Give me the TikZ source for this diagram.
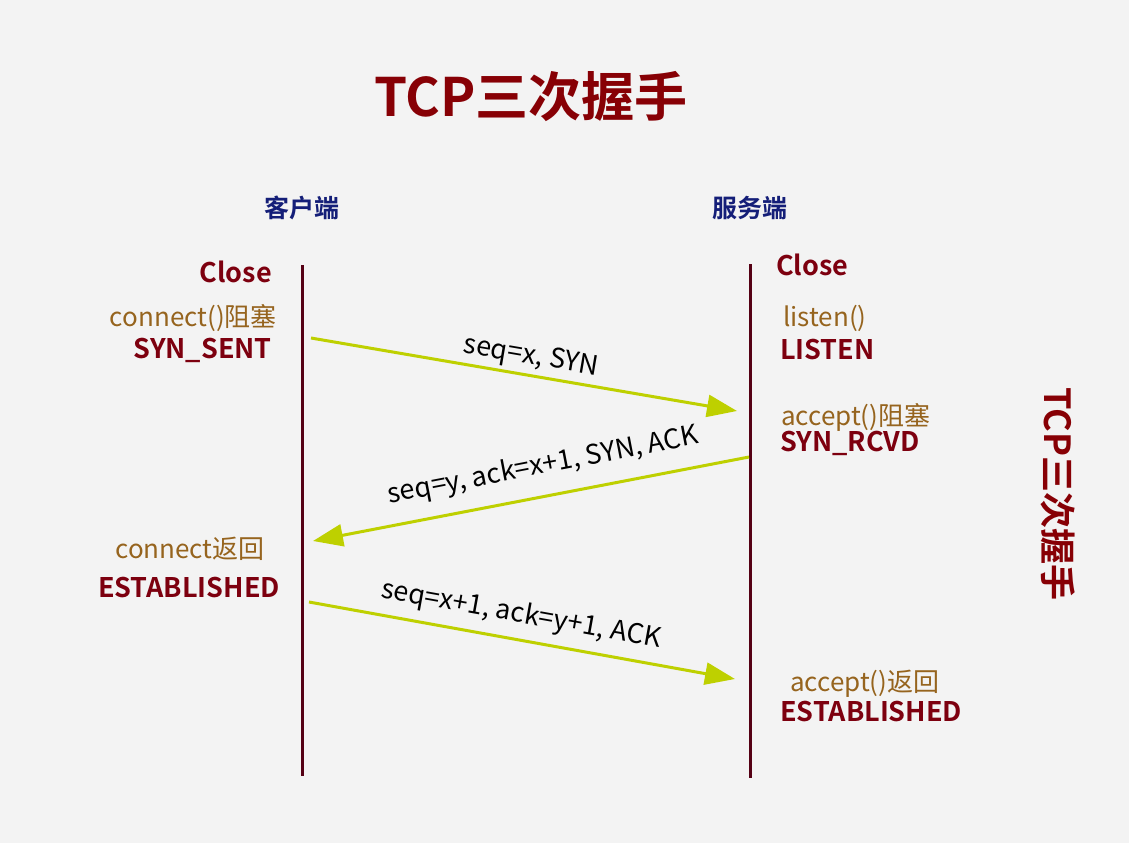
\documentclass[tikz,border=0pt]{standalone}
\usepackage{fontspec}
\setmainfont{Noto Sans CJK SC}
\newfontfamily\cjkbold{Noto Sans CJK SC Bold}
\usetikzlibrary{arrows.meta}
\definecolor{bgc}{RGB}{243,243,243}
\definecolor{lifec}{RGB}{85,0,20}
\definecolor{titlec}{RGB}{135,0,5}
\definecolor{statec}{RGB}{125,0,15}
\definecolor{callc}{RGB}{150,100,30}
\definecolor{sidec}{RGB}{20,30,120}
\definecolor{arrc}{RGB}{190,208,0}
\tikzset{
  lifeline/.style={draw=lifec, line width=3pt},
  msg/.style={draw=arrc, line width=3pt, -{Triangle[length=30pt,width=22pt]}},
  statelbl/.style={font=\cjkbold\fontsize{27}{30}\selectfont, text=statec, inner sep=0pt},
  calllbl/.style={font=\fontsize{26}{29}\selectfont, text=callc, inner sep=0pt},
  sidelbl/.style={font=\cjkbold\fontsize{25}{28}\selectfont, text=sidec, inner sep=0pt},
  msglbl/.style={font=\fontsize{27}{30}\selectfont, text=black, inner sep=0pt},
}
\begin{document}
\begin{tikzpicture}[x=1pt,y=-1pt]
\fill[bgc] (0,0) rectangle (1129,843);
\useasboundingbox (0,0) rectangle (1129,843);

\node[font=\cjkbold\fontsize{53}{60}\selectfont, text=titlec, inner sep=0pt] (title) at (531,97) {TCP三次握手};
\node[font=\cjkbold\fontsize{36}{40}\selectfont, text=titlec, inner sep=0pt, rotate=-90] (vtitle) at (1058,494) {TCP三次握手};

\node[sidelbl] (client) at (302,208) {客户端};
\node[sidelbl] (server) at (750,208) {服务端};

\coordinate (ltop) at (302,265);
\coordinate (lbot) at (302,776);
\coordinate (rtop) at (750,264);
\coordinate (rbot) at (750,778);
\draw[lifeline] (ltop) -- (lbot);
\draw[lifeline] (rtop) -- (rbot);

% left labels
\node[statelbl, anchor=east] (lclose) at (272,272) {Close};
\node[calllbl, anchor=east] (lconn) at (277,318) {connect()阻塞};
\node[statelbl, anchor=east] (lsent) at (272,350) {SYN\_SENT};
\node[calllbl] (lret) at (190,549) {connect返回};
\node[statelbl] (lest) at (189,588) {ESTABLISHED};

% right labels
\node[statelbl, anchor=west] (rclose) at (776,265) {Close};
\node[calllbl, anchor=west] (rlisten) at (783,318) {listen()};
\node[statelbl, anchor=west] (rlistenst) at (780,350) {LISTEN};
\node[calllbl, anchor=west] (racc) at (781,417) {accept()阻塞};
\node[statelbl, anchor=west] (rrcvd) at (780,443) {SYN\_RCVD};
\node[calllbl, anchor=west] (raccret) at (790,684) {accept()返回};
\node[statelbl, anchor=west] (rest) at (780,712) {ESTABLISHED};

% messages
\coordinate (m1s) at (311,338);
\coordinate (m1e) at (737,411);
\coordinate (m2s) at (749,457);
\coordinate (m2e) at (313,541);
\coordinate (m3s) at (309,602);
\coordinate (m3e) at (735,679);
\draw[msg] (m1s) -- (m1e);
\draw[msg] (m2s) -- (m2e);
\draw[msg] (m3s) -- (m3e);

\node[msglbl, rotate=-9.7] (l1) at (531,357) {seq=x, SYN};
\node[msglbl, rotate=10.9] (l2) at (543,466) {seq=y, ack=x+1, SYN, ACK};
\node[msglbl, rotate=-10.2] (l3) at (521,615) {seq=x+1, ack=y+1, ACK};
\end{tikzpicture}
\end{document}
